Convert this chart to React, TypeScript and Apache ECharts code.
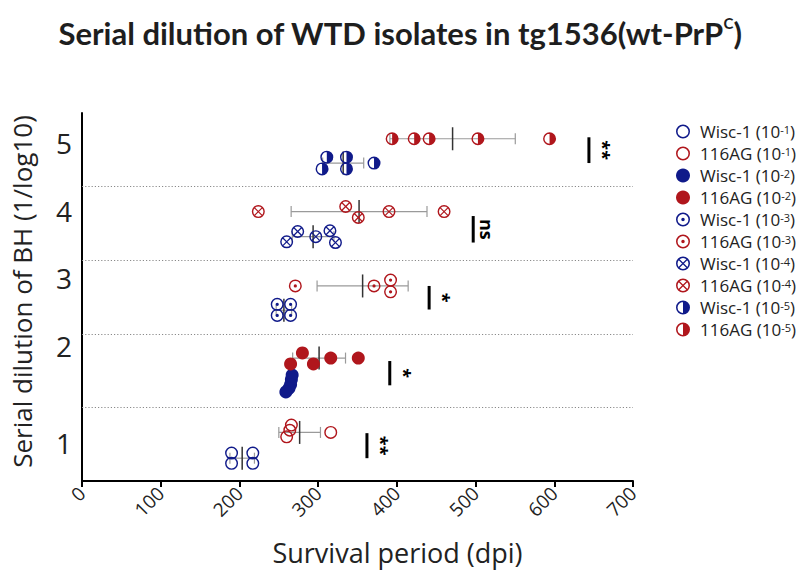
import React, { useEffect, useRef } from "react";
import * as echarts from "echarts";

// ---------- data ----------
const seriesNames = [
  "Wisc-1 (10^-1)",
  "116AG (10^-1)",
  "Wisc-1 (10^-2)",
  "116AG (10^-2)",
  "Wisc-1 (10^-3)",
  "116AG (10^-3)",
  "Wisc-1 (10^-4)",
  "116AG (10^-4)",
  "Wisc-1 (10^-5)",
  "116AG (10^-5)",
];
const symbolKinds = ["open", "open", "filled", "filled", "dot", "dot", "cross", "cross", "half", "half"];
const isolateColors = ["#101a8a", "#b0161c"];

// survival period (dpi) of each animal, per group
const survivalDays = [
  [190, 217, 190, 217],
  [266, 264, 260, 316],
  [267, 266, 265, 263, 259],
  [280, 265, 294, 316, 351],
  [248, 265, 248, 265],
  [271, 371, 392, 392],
  [260, 274, 297, 315, 322],
  [224, 335, 351, 390, 460],
  [311, 305, 336, 336, 371],
  [394, 422, 441, 503, 594],
];
// vertical placement of each animal within its dilution row
const rowPositions = [
  [0.88, 0.88, 0.74, 0.74],
  [1.26, 1.19, 1.1, 1.16],
  [1.94, 1.88, 1.81, 1.76, 1.71],
  [2.24, 2.09, 2.09, 2.17, 2.17],
  [2.9, 2.9, 2.75, 2.75],
  [3.15, 3.15, 3.23, 3.07],
  [3.75, 3.89, 3.82, 3.9, 3.74],
  [4.16, 4.23, 4.08, 4.16, 4.16],
  [4.9, 4.74, 4.9, 4.74, 4.82],
  [5.15, 5.15, 5.15, 5.15, 5.15],
];
const groupRows = [0.81, 1.16, 1.83, 2.17, 2.82, 3.15, 3.82, 4.16, 4.82, 5.15];

const sigX = [362, 391, 441, 497, 644];
const sigYLow = [0.81, 1.8, 2.83, 3.74, 4.82];
const sigYHigh = [1.15, 2.13, 3.15, 4.1, 5.17];
const sigLabels = ["**", "*", "*", "ns", "**"];

const yTickLabels = ["1", "2", "3", "4", "5"];
const yTickPositions = [1.01, 2.34, 3.26, 4.17, 5.09];
const rowSeparators = [1.5, 2.5, 3.5, 4.5];

// ---------- symbols ----------
const OUTER = "M10 0A10 10 0 1 1 10 20A10 10 0 1 1 10 0Z";
const INNER = "M10 2.2A7.8 7.8 0 1 0 10 17.8A7.8 7.8 0 1 0 10 2.2Z";
const RING = OUTER + INNER;
const SYMBOLS: Record<string, string> = {
  open: "path://" + RING,
  filled: "circle",
  dot: "path://" + RING + "M10 7.5A2.5 2.5 0 1 1 10 12.5A2.5 2.5 0 1 1 10 7.5Z",
  cross:
    "path://" +
    RING +
    "M5.24 3.96L16.04 14.76L14.76 16.04L3.96 5.24Z" +
    "M16.04 5.24L5.24 16.04L3.96 14.76L14.76 3.96Z",
  half: "path://" + RING + "M10 0A10 10 0 0 1 10 20Z",
};

const FONT = "Open Sans";
const TEXT = "#222";

function meanSd(a: number[]) {
  const m = a.reduce((s, v) => s + v, 0) / a.length;
  const v = a.reduce((s, x) => s + (x - m) * (x - m), 0) / (a.length - 1);
  return [m, Math.sqrt(v)];
}

function buildOption() {
  const scatterSeries = seriesNames.map((name, i) => ({
    name,
    type: "scatter",
    symbol: SYMBOLS[symbolKinds[i]],
    symbolKeepAspect: true,
    symbolSize: 13,
    z: 4,
    itemStyle: { color: isolateColors[i % 2], opacity: 1 },
    data: survivalDays[i].map((d, j) => [d, rowPositions[i][j]]),
  }));

  const errData = survivalDays.map((days, i) => {
    const [m, sd] = meanSd(days);
    return [m, groupRows[i], sd];
  });

  const errSeries = {
    type: "custom",
    name: "errors",
    z: 2,
    silent: true,
    data: errData,
    renderItem: (params: any, api: any) => {
      const m = api.value(0);
      const y = api.value(1);
      const sd = api.value(2);
      const l = api.coord([m - sd, y]);
      const r = api.coord([m + sd, y]);
      const c = api.coord([m, y]);
      const capH = 5.5;
      const meanH = 11.5;
      const grey = { stroke: "#9a9a9a", lineWidth: 1.2 };
      return {
        type: "group",
        children: [
          { type: "line", shape: { x1: l[0], y1: l[1], x2: r[0], y2: r[1] }, style: grey },
          { type: "line", shape: { x1: l[0], y1: l[1] - capH, x2: l[0], y2: l[1] + capH }, style: grey },
          { type: "line", shape: { x1: r[0], y1: r[1] - capH, x2: r[0], y2: r[1] + capH }, style: grey },
          {
            type: "line",
            shape: { x1: c[0], y1: c[1] - meanH, x2: c[0], y2: c[1] + meanH },
            style: { stroke: "#333", lineWidth: 1.5 },
          },
        ],
      };
    },
    markLine: {
      silent: true,
      symbol: "none",
      label: { show: false },
      lineStyle: { type: [1.2, 2], color: "#8a8a8a", width: 1 },
      data: rowSeparators.map((v) => ({ yAxis: v })),
    },
  };

  const sigSeries = {
    type: "custom",
    name: "significance",
    z: 5,
    silent: true,
    data: sigX.map((x, i) => [x, sigYLow[i], sigYHigh[i]]),
    renderItem: (params: any, api: any) => {
      const a = api.coord([api.value(0), api.value(1)]);
      const b = api.coord([api.value(0), api.value(2)]);
      const mid = (a[1] + b[1]) / 2;
      return {
        type: "group",
        children: [
          { type: "line", shape: { x1: a[0], y1: a[1], x2: b[0], y2: b[1] }, style: { stroke: "#000", lineWidth: 3 } },
          {
            type: "text",
            x: a[0] + 14,
            y: mid,
            rotation: -Math.PI / 2,
            style: {
              text: sigLabels[params.dataIndex],
              fontSize: 18,
              fontWeight: "bold",
              fontFamily: FONT,
              fill: "#000",
              align: "center",
              verticalAlign: "middle",
            },
          },
        ],
      };
    },
  };

  return {
    animation: false,
    backgroundColor: "#fff",
    title: {
      text: "{t|Serial dilution of WTD isolates in tg1536(wt-PrP}{sup|C}{t|)}",
      left: "center",
      top: 10,
      textStyle: {
        rich: {
          t: { fontFamily: "Lato", fontWeight: "bold", fontSize: 31, color: "#1e1e1e", lineHeight: 36 },
          sup: { fontFamily: "Lato", fontWeight: "bold", fontSize: 15, color: "#1e1e1e", verticalAlign: "top", lineHeight: 36 },
        },
      },
    },
    legend: {
      orient: "vertical",
      left: 671,
      top: 118,
      itemWidth: 24,
      itemHeight: 14,
      itemGap: 5,
      selectedMode: false,
      data: seriesNames,
      formatter: (name: string) => {
        const m = name.match(/^(.*\(10)\^(-\d+)\)$/);
        return m ? `{b|${m[1]}}{sup|${m[2]}}{b|)}` : name;
      },
      textStyle: {
        rich: {
          b: { fontFamily: FONT, fontSize: 17, color: TEXT, lineHeight: 16 },
          sup: { fontFamily: FONT, fontSize: 11, color: TEXT, verticalAlign: "top", lineHeight: 16 },
        },
      },
    },
    grid: { left: 82, right: 167, top: 113, bottom: 99, containLabel: false },
    xAxis: {
      type: "value",
      min: 0,
      max: 700,
      interval: 100,
      name: "Survival period (dpi)",
      nameLocation: "middle",
      nameGap: 58,
      nameTextStyle: { fontFamily: FONT, fontSize: 27, color: TEXT, padding: [0, 0, 0, 80] },
      axisLine: { show: true, lineStyle: { color: "#000", width: 2 } },
      axisTick: { show: true, length: 6, lineStyle: { color: "#000", width: 2 } },
      axisLabel: { rotate: 45, fontFamily: FONT, fontSize: 19, color: TEXT, margin: 9 },
      splitLine: { show: false },
    },
    yAxis: {
      type: "value",
      min: 0.5,
      max: 5.5,
      name: "Serial dilution of BH (1/log10)",
      nameLocation: "middle",
      nameGap: 47,
      nameTextStyle: { fontFamily: FONT, fontSize: 26, color: TEXT, padding: [0, 0, 0, 11] },
      axisLine: { show: true, lineStyle: { color: "#000", width: 2 } },
      axisTick: { show: false },
      splitLine: { show: false },
      axisLabel: {
        customValues: yTickPositions,
        formatter: (v: number) => {
          const k = yTickPositions.findIndex((p) => Math.abs(p - v) < 1e-6);
          return k >= 0 ? yTickLabels[k] : "";
        },
        fontFamily: FONT,
        fontSize: 28,
        color: TEXT,
        margin: 10,
      },
    },
    series: [errSeries, ...scatterSeries, sigSeries],
  };
}

export default function App() {
  const ref = useRef<HTMLDivElement>(null);
  useEffect(() => {
    if (!ref.current) return;
    const chart = echarts.init(ref.current, null, { renderer: "svg" });
    chart.setOption(buildOption() as any);
    return () => chart.dispose();
  }, []);
  return (
    <div
      ref={ref}
      style={{ position: "absolute", left: 0, top: 0, width: 800, height: 580, background: "#fff" }}
    />
  );
}
